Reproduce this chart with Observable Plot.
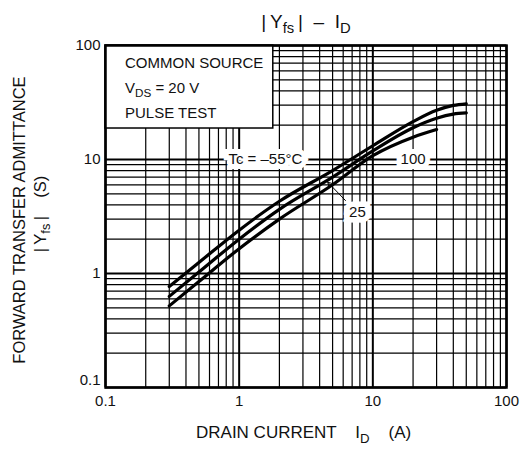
<!DOCTYPE html>
<html><head><meta charset="utf-8">
<script src="https://cdn.jsdelivr.net/npm/d3@7"></script>
<script src="https://cdn.jsdelivr.net/npm/@observablehq/plot@0.6"></script>
<style>html,body{margin:0;padding:0;background:#fff}</style>
</head><body><div id="chart"></div>
<script>
// ---- data ----
const drainCurrent = [0.3, 0.5, 1, 2, 5, 10, 20, 30, 40, 50];           // I_D (A)
const yfsMinus55 = [0.77, 1.25, 2.4, 4.3, 8.0, 13.2, 21.5, 27.0, 29.8, 30.8]; // Tc = -55 °C
const yfs25      = [0.63, 1.03, 2.0, 3.65, 7.0, 11.9, 19.0, 23.0, 25.0, 25.6]; // Tc = 25 °C
const yfs100     = [0.52, 0.85, 1.65, 3.0, 6.0, 10.8, 15.7, 18.3, null, null]; // Tc = 100 °C
const temps = ["-55", "25", "100"];
const xTickValues = [0.1, 1, 10, 100];
const yTickValues = [0.1, 1, 10, 100];
const noteText = ["Tc = –55°C", "100"];
const noteX = [1.57, 20];
const noteY = [10, 10];
const arrowLabel = "25";
const arrowLabelAt = [7.67, 3.43];
const arrowFrom = [6.24, 4.37];
const arrowTo = [4.6, 6.32];
const boxCorners = [0.1, 1.8, 18.7, 100]; // x1, x2, y1, y2 of the condition box

// ---- build table ----
const series = [yfsMinus55, yfs25, yfs100];
const rows = [];
temps.forEach((t, i) => drainCurrent.forEach((c, j) => {
  const v = series[i][j];
  if (v != null) rows.push({temp: t, id: c, yfs: v});
}));
const notes = noteText.map((t, i) => ({text: t, x: noteX[i], y: noteY[i]}));
const gridTicks = d3.scaleLog().domain([0.1, 100]).ticks();
const minor = gridTicks.filter(d => !xTickValues.some(v => Math.abs(v - d) / v < 1e-9));
const fmt = d => String(d);

const plot = Plot.plot({
  width: 521, height: 454,
  marginLeft: 105, marginRight: 15, marginTop: 45, marginBottom: 67,
  style: {fontFamily: "'Liberation Sans', Arial, sans-serif", fontSize: "15px", color: "#111", background: "#fff"},
  x: {type: "log", domain: [0.1, 100]},
  y: {type: "log", domain: [0.1, 100]},
  marks: [
    Plot.ruleX(minor, {stroke: "#000", strokeWidth: 1.2}),
    Plot.ruleY(minor, {stroke: "#000", strokeWidth: 1.2}),
    Plot.ruleX(xTickValues, {stroke: "#000", strokeWidth: 2}),
    Plot.ruleY(yTickValues, {stroke: "#000", strokeWidth: 2}),
    Plot.rect([boxCorners], {x1: d => d[0], x2: d => d[1], y1: d => d[2], y2: d => d[3], fill: "#fff", stroke: "#000", strokeWidth: 1.5}),
    Plot.text(notes, {x: "x", y: "y", text: "text", fontSize: 15, fill: "#111", stroke: "#fff", strokeWidth: 10, strokeLinejoin: "miter"}),
    Plot.text([arrowLabel], {x: arrowLabelAt[0], y: arrowLabelAt[1], text: d => d, fontSize: 15, fill: "#111", stroke: "#fff", strokeWidth: 11, strokeLinejoin: "miter"}),
    Plot.line(rows, {x: "id", y: "yfs", z: "temp", stroke: "#000", strokeWidth: 3.2, curve: "monotone-x"}),
    Plot.arrow([0], {x1: arrowFrom[0], y1: arrowFrom[1], x2: arrowTo[0], y2: arrowTo[1], stroke: "#000", strokeWidth: 1, headLength: 6}),
    Plot.frame({stroke: "#000", strokeWidth: 2.5}),
    Plot.axisX(xTickValues, {tickSize: 0, tickPadding: 8, tickFormat: fmt, label: null, fontSize: 15}),
    Plot.axisY(yTickValues.filter(d => d >= 1), {tickSize: 0, tickPadding: 5, tickFormat: fmt, label: null, fontSize: 15}),
    Plot.axisY([0.1], {tickSize: 0, tickPadding: 5, tickFormat: fmt, label: null, fontSize: 15, dy: -7})
  ]
});
document.getElementById("chart").appendChild(plot);

// ---- texts with subscripts ----
const svg = d3.select(plot);
function richText(x, y, parts, size, anchor, rotate) {
  const g = svg.append("g").attr("transform", `translate(${x},${y})` + (rotate ? " rotate(-90)" : ""));
  const t = g.append("text").attr("x", 0).attr("y", 0).attr("font-size", size)
    .attr("font-family", "'Liberation Sans', Arial, sans-serif")
    .attr("text-anchor", anchor || "start").attr("fill", "#111").style("white-space", "pre");
  let shifted = 0;
  for (const [s, sub] of parts) {
    const ts = t.append("tspan").text(s);
    const want = sub ? size * 0.27 : 0;
    if (want !== shifted) ts.attr("dy", want - shifted);
    if (sub) ts.attr("font-size", size * 0.78);
    shifted = want;
  }
}
richText(306, 28, [["|\u2009Y"], ["fs", 1], ["\u2009|  –  I"], ["D", 1]], 19, "middle");
richText(196, 438, [["DRAIN CURRENT    I"], ["D", 1], ["    (A)"]], 17, "start");
richText(25, 220, [["FORWARD TRANSFER ADMITTANCE"]], 16.5, "middle", true);
richText(46, 214, [["|\u2009Y"], ["fs", 1], ["\u2009|    (S)"]], 16.5, "middle", true);
richText(125, 68, [["COMMON SOURCE"]], 15, "start");
richText(125, 93, [["V"], ["DS", 1], [" = 20 V"]], 15, "start");
richText(125, 118, [["PULSE TEST"]], 15, "start");
</script>
</body></html>
